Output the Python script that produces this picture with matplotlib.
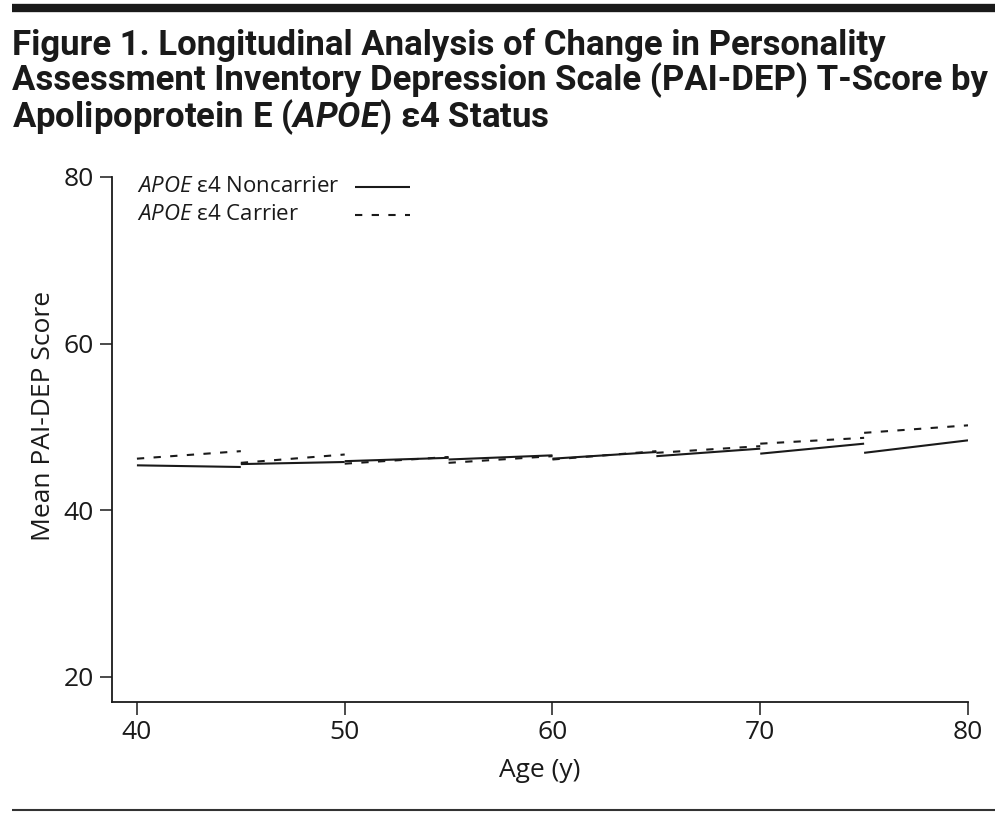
import matplotlib
matplotlib.use("Agg")
import matplotlib.pyplot as plt
from matplotlib.lines import Line2D

# ---- data ----
seg_start_age = [40, 45, 50, 55, 60, 65, 70, 75]
seg_end_age = [45, 50, 55, 60, 65, 70, 75, 80]
noncarrier_start = [45.4, 45.55, 45.9, 46.1, 46.2, 46.5, 46.8, 46.9]
noncarrier_end = [45.2, 45.8, 46.3, 46.6, 47.0, 47.4, 48.0, 48.4]
carrier_start = [46.2, 45.7, 45.6, 45.7, 46.1, 46.9, 48.0, 49.3]
carrier_end = [47.1, 46.7, 46.4, 46.5, 47.1, 47.7, 48.7, 50.2]
x_ticks = [40, 50, 60, 70, 80]
y_ticks = [20, 40, 60, 80]
series_labels = ["$\\mathit{APOE}$ ε4 Noncarrier", "$\\mathit{APOE}$ ε4 Carrier"]

plt.rcParams['font.family'] = ['Open Sans', 'DejaVu Sans']
plt.rcParams['mathtext.fontset'] = 'custom'
plt.rcParams['mathtext.it'] = 'Open Sans:italic'
plt.rcParams['mathtext.rm'] = 'Open Sans'
plt.rcParams['mathtext.bf'] = 'Roboto:bold'
plt.rcParams['mathtext.bfit'] = 'Roboto:italic:bold'

INK = '#1a1a1a'
W, H = 1007, 816
fig = plt.figure(figsize=(W / 100, H / 100), dpi=100)

# frame lines
fig.add_artist(Line2D([12 / W, 995 / W], [1 - 8 / H, 1 - 8 / H], color=INK, lw=6.0,
                      transform=fig.transFigure, solid_capstyle='butt'))
fig.add_artist(Line2D([12 / W, 995 / W], [1 - 810 / H, 1 - 810 / H], color='#333333', lw=1.5,
                      transform=fig.transFigure, solid_capstyle='butt'))

# title
fig.text(12 / W, 1 - 28 / H,
         "Figure 1. Longitudinal Analysis of Change in Personality\n"
         "Assessment Inventory Depression Scale (PAI-DEP) T-Score by\n"
         "Apolipoprotein E ($\\mathbfit{APOE}$) ε4 Status",
         ha='left', va='top', fontsize=25, fontweight='bold', color=INK,
         family=['Roboto', 'DejaVu Sans'], linespacing=1.0)

ax = fig.add_axes([112 / W, (H - 702) / H, (968 - 112) / W, (702 - 177) / H])
ax.set_xlim(38.8, 80)
ax.set_ylim(17, 80)

lw = 1.5
for i in range(len(seg_start_age)):
    ax.plot([seg_start_age[i], seg_end_age[i]], [noncarrier_start[i], noncarrier_end[i]],
            color=INK, lw=lw, solid_capstyle='butt')
for i in range(len(seg_start_age)):
    ax.plot([seg_start_age[i], seg_end_age[i]], [carrier_start[i], carrier_end[i]],
            color=INK, lw=lw, linestyle=(0, (3.5, 4.5)), dash_capstyle='butt')

for s in ['top', 'right']:
    ax.spines[s].set_visible(False)
for s in ['left', 'bottom']:
    ax.spines[s].set_linewidth(1.3)
    ax.spines[s].set_color(INK)

ax.set_xticks(x_ticks)
ax.set_yticks(y_ticks)
ax.tick_params(axis='both', direction='out', length=9, width=1.1, colors=INK,
               labelsize=19, pad=4)
ax.set_xlabel("Age (y)", fontsize=19, color=INK, labelpad=9)
ax.set_ylabel("Mean PAI-DEP Score", fontsize=19, color=INK)
ax.yaxis.set_label_coords(-0.066, 0.545)

# legend (text left, line sample right)
leg_rows_y = [187, 215]
leg_styles = ['-', (0, (3.5, 4.5))]
for lab, ypx, ls in zip(series_labels, leg_rows_y, leg_styles):
    fig.text(137 / W, 1 - ypx / H, lab, ha='left', va='center', fontsize=16, color=INK)
    fig.add_artist(Line2D([355 / W, 410 / W], [1 - ypx / H, 1 - ypx / H], color=INK, lw=lw,
                          linestyle=ls, transform=fig.transFigure,
                          solid_capstyle='butt', dash_capstyle='butt'))

fig.savefig("out.png", dpi=100)
